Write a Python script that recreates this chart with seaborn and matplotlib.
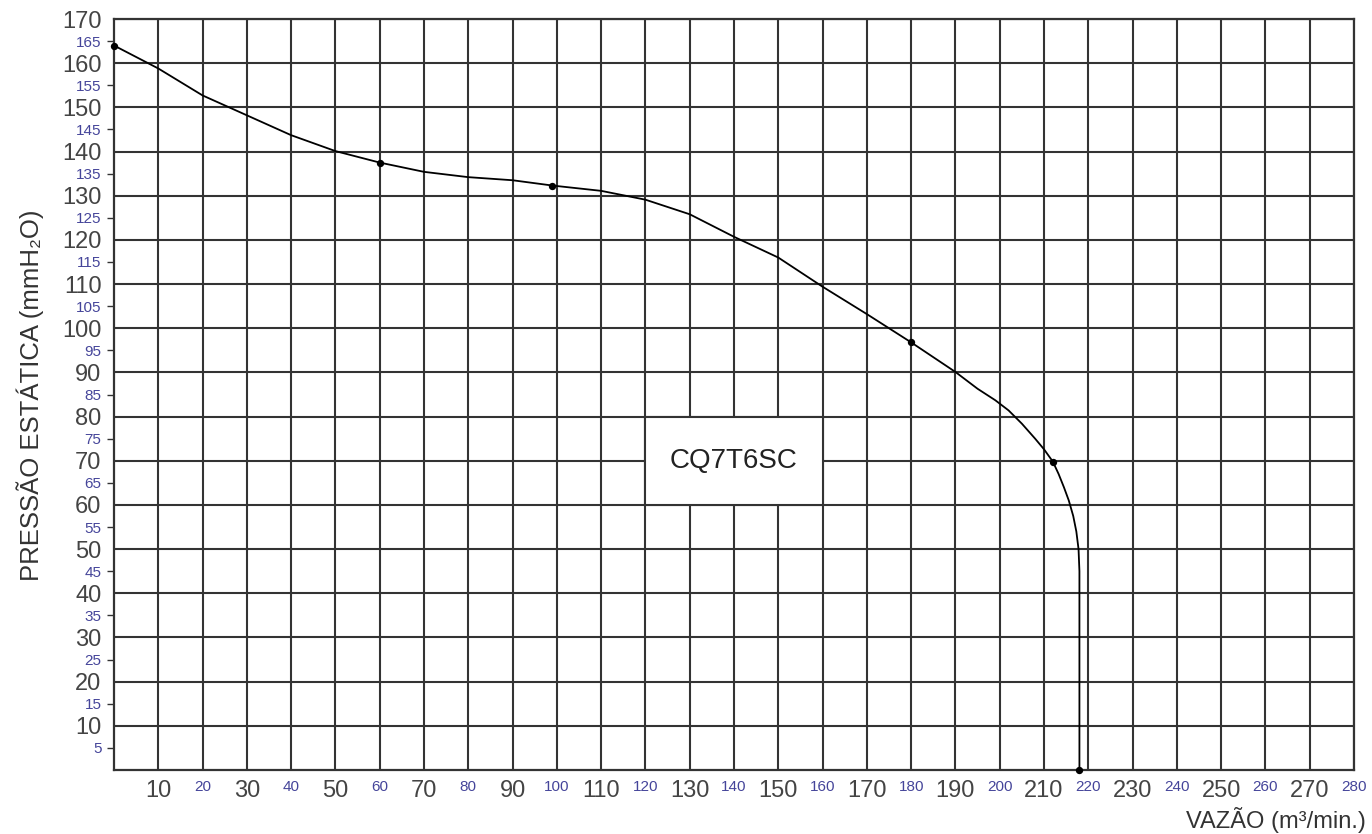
import numpy as np
import pandas as pd
import matplotlib
matplotlib.use("Agg")
import matplotlib.pyplot as plt
from matplotlib.patches import Rectangle
import seaborn as sns

# Curva de pressão estática x vazão
curva_vazao = [0, 10, 20, 30, 40, 50, 60, 70, 80, 90, 99, 110, 120, 130, 140, 150,
               160, 170, 180, 190, 195, 199, 202, 205, 208, 210, 212, 213.3, 214.5,
               215.6, 216.6, 217.3, 217.8, 218, 218, 218]
curva_pressao = [164, 158.8, 152.7, 148.2, 143.7, 140.1, 137.5, 135.4, 134.2, 133.5, 132.3,
                 131.1, 129.1, 125.8, 120.7, 116, 109.4, 103.2, 96.8, 90.1, 86.3, 83.7,
                 81.4, 78.4, 75, 72.6, 69.8, 67, 64, 61, 57.5, 54, 50, 45, 31, 0]

# Pontos medidos
pontos_vazao = [0, 60, 99, 180, 212, 218]
pontos_pressao = [164, 137.5, 132.3, 96.8, 69.8, 0]

# Marcas dos eixos
x_grandes = list(range(10, 280, 20))      # 10, 30, ..., 270
x_pequenos = list(range(20, 281, 20))     # 20, 40, ..., 280
y_grandes = list(range(10, 171, 10))
y_pequenos = list(range(5, 170, 10))

modelo = "CQ7T6SC"
titulo_x = "VAZÃO (m³/min.)"
titulo_y = "PRESSÃO ESTÁTICA (mmH₂O)"

sns.set_theme(style="white")
plt.rcParams['font.family'] = ['Liberation Sans', 'DejaVu Sans']

cor_grade = '#333333'
cor_grande = '#444444'
cor_pequena = '#45459a'

fig = plt.figure(figsize=(13.72, 8.34), dpi=100)
ax = fig.add_axes([114 / 1372, 1 - 770 / 834, 1240 / 1372, 751 / 834])

df_curva = pd.DataFrame({'vazao': curva_vazao, 'pressao': curva_pressao})
df_pontos = pd.DataFrame({'vazao': pontos_vazao, 'pressao': pontos_pressao})

sns.lineplot(data=df_curva, x='vazao', y='pressao', sort=False, estimator=None,
             color='black', linewidth=1.3, ax=ax, zorder=3)
sns.scatterplot(data=df_pontos, x='vazao', y='pressao', color='black', s=28,
                edgecolor='black', linewidth=0, ax=ax, zorder=4, clip_on=False)

ax.set_xlim(0, 280)
ax.set_ylim(0, 170)

# Marcas: grandes em cinza, pequenas em azul
ax.set_xticks(x_grandes, labels=[str(v) for v in x_grandes])
ax.set_xticks(x_pequenos, labels=[str(v) for v in x_pequenos], minor=True)
ax.set_yticks(y_grandes, labels=[str(v) for v in y_grandes])
ax.set_yticks(y_pequenos, labels=[str(v) for v in y_pequenos], minor=True)

ax.tick_params(axis='x', which='major', length=0, pad=7, labelsize=17, labelcolor=cor_grande)
ax.tick_params(axis='x', which='minor', length=0, pad=7, labelsize=11, labelcolor=cor_pequena)
ax.tick_params(axis='y', which='major', length=0, pad=9, labelsize=17, labelcolor=cor_grande)
ax.tick_params(axis='y', which='minor', left=True, length=5, width=1, color=cor_grade,
               pad=4, labelsize=11, labelcolor=cor_pequena)

# Grade
ax.set_axisbelow(True)
ax.grid(which='major', color=cor_grade, linewidth=1.5)
ax.xaxis.grid(which='minor', color=cor_grade, linewidth=1.5)
for lado in ax.spines.values():
    lado.set_visible(True)
    lado.set_color(cor_grade)
    lado.set_linewidth(1.6)

# Caixa do modelo
ax.add_patch(Rectangle((120, 60), 40, 20, facecolor='white', edgecolor=cor_grade,
                       linewidth=1.5, zorder=1))
ax.text(140, 70, modelo, ha='center', va='center', fontsize=20, color='#222222', zorder=5)

ax.set_xlabel('')
ax.set_ylabel('')
fig.text(30 / 1372, 1 - 395 / 834, titulo_y, rotation=90, ha='center', va='center',
         fontsize=18.5, color='#333333')
fig.text(1366 / 1372, 1 - 820 / 834, titulo_x, ha='right', va='center',
         fontsize=17, color='#333333')

fig.savefig('out.png', dpi=100)
